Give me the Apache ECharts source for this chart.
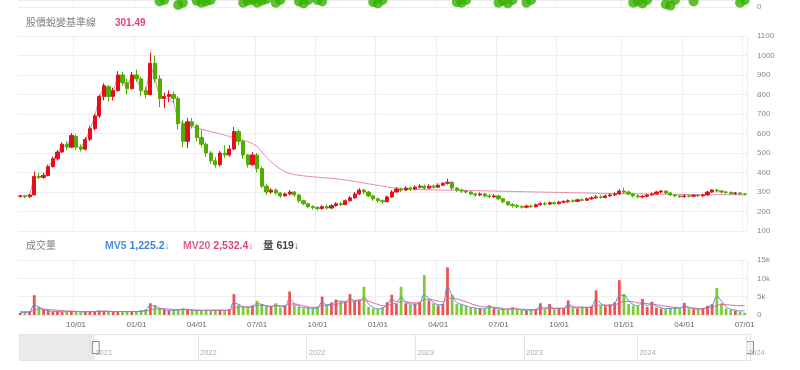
<!DOCTYPE html>
<html><head><meta charset="utf-8">
<script src="https://cdn.jsdelivr.net/npm/echarts@6/dist/echarts.min.js"></script>
<style>html,body{margin:0;padding:0;background:#fff}#c{width:800px;height:370px}</style>
</head><body><div id="c"></div>
<script>
// ---- data (weekly) ----
const LEAD = 18;               // weeks before the visible window (shown greyed in the slider)
const FIRST_WEEK = '2021-03-01';
const candles = [ // [open, close, low, high]
[278,280,270,285],[280,276,268,284],[276,285,270,290],[285,380,282,405],[380,375,365,398],[375,385,368,398],[385,430,380,440],[430,470,425,482],[470,505,460,515],[505,545,500,555],
[545,530,515,560],[530,590,525,603],[585,530,515,595],[530,520,508,545],[520,570,512,582],[570,625,560,640],[625,690,615,700],[690,790,680,800],[790,845,770,858],[840,790,765,850],
[790,820,770,835],[820,900,815,920],[900,860,845,915],[860,830,800,880],[830,900,825,915],[900,880,865,928],[880,820,790,890],[820,800,780,840],[800,960,795,1015],[960,880,860,1000],
[880,780,735,900],[780,790,730,810],[790,800,760,820],[800,780,755,815],[780,650,620,790],[650,560,530,670],[560,660,525,680],[660,640,625,680],[640,580,560,650],[580,545,530,620],
[545,500,480,555],[500,460,445,510],[460,440,425,480],[440,500,430,510],[500,490,475,540],[490,520,480,540],[520,610,515,633],[610,560,540,620],[560,490,470,570],[490,440,425,495],
[440,490,435,505],[490,420,400,500],[420,330,320,430],[330,300,285,340],[300,310,290,320],[310,295,285,318],[295,280,270,300],[280,290,275,298],[290,300,282,310],[300,285,275,305],
[285,255,245,290],[255,240,232,260],[240,225,215,245],[225,220,210,232],[220,215,205,228],[215,225,210,232],[225,218,210,235],[218,230,212,238],[230,240,225,248],[240,235,228,250],
[235,255,232,262],[255,270,250,280],[270,290,265,300],[290,310,285,320],[310,300,290,318],[300,280,275,305],[280,265,255,285],[265,255,245,270],[255,250,240,262],[250,275,248,282],
[275,300,270,310],[300,315,298,325],[315,310,300,322],[310,320,305,330],[320,315,305,328],[315,325,310,335],[325,330,318,340],[330,320,312,338],[320,330,315,340],[330,325,318,338],
[325,335,320,345],[335,345,330,350],[345,350,338,368],[350,320,310,355],[320,310,300,325],[310,305,295,318],[305,300,292,312],[300,290,282,305],[290,285,276,296],[285,290,278,298],
[290,280,272,295],[280,275,268,288],[275,280,270,290],[280,265,258,285],[265,250,242,270],[250,235,228,255],[235,230,220,242],[230,225,218,238],[225,222,215,232],[222,228,216,235],
[228,225,218,236],[225,235,220,240],[235,240,228,248],[240,238,230,250],[238,245,232,252],[245,240,235,252],[240,248,236,255],[248,250,242,258],[250,255,245,262],[255,252,246,262],
[252,260,248,266],[260,258,252,268],[258,265,254,272],[265,270,260,278],[270,275,265,285],[275,272,266,284],[272,280,268,288],[280,285,275,292],[285,290,280,298],[290,305,286,315],
[305,300,290,322],[300,290,285,308],[290,280,272,295],[280,275,268,288],[275,278,268,285],[278,285,272,292],[285,290,280,298],[290,300,286,306],[300,305,294,310],[305,295,288,308],
[295,285,280,300],[285,280,274,290],[280,276,270,286],[276,280,270,288],[280,278,272,286],[278,282,274,290],[282,280,274,290],[280,285,276,292],[285,300,282,306],[300,310,295,315],
[310,305,298,316],[305,300,292,310],[300,298,290,305],[298,292,286,302],[292,295,285,300],[295,290,284,298],[290,288,282,294]
];
const baseline = [
280,280,285,375,378,383,425,465,500,540,535,585,540,525,565,620,685,785,840,800,
815,895,865,835,895,880,825,805,955,880,790,785,775,760,665,655,645,635,628,622,
616,610,604,598,592,585,578,572,565,558,548,535,505,478,455,435,418,405,395,390,
386,383,380,378,376,374,372,370,368,365,362,358,354,350,346,342,338,334,330,326,
322,320,318,316,315,314,313,312,311,311,310,310,310,309,309,308,308,307,307,306,
306,305,305,304,304,303,303,302,302,301,301,300,300,299,299,298,298,297,297,296,
296,295,295,294,294,293,293,292,292,292,291,291,291,290,290,290,289,289,289,288,
288,288,288,287,287,287,287,286,286,286,286,286,286,286,286,286,286
];
const volume = [
600,700,900,5400,2200,1600,1200,900,1000,800,900,1100,900,700,800,900,1000,1200,1100,900,
800,1000,900,800,1000,900,1200,1500,3200,2600,1800,1400,1200,1300,1500,1800,1400,1300,1200,1100,
1300,1200,1400,1300,1200,1500,5700,2800,2200,2000,2600,3900,3000,2400,2200,3200,2000,2500,6400,2800,
2200,1800,2000,1700,2200,5000,2600,3400,4200,3800,3600,5700,3800,4200,7700,2200,1800,1600,2000,3500,
5500,3000,7700,3200,2800,3000,3600,10900,4000,3200,2600,3000,13000,5500,3000,2800,2400,2000,1800,1700,
1600,2700,1800,1500,1400,1300,2200,1500,1300,1200,1400,1500,3200,1500,3000,1600,1800,1700,4000,2000,
1800,2200,2000,2400,6700,2600,2400,2800,3500,9500,5700,3000,2600,2400,4400,2200,3600,2000,1800,1600,
1800,2000,1600,3300,1800,1600,1500,1800,2500,3000,7400,3200,1800,1400,1200,900,619
];
const mv5 = [
700,700,900,2700,2200,1500,1200,1000,950,900,900,950,950,850,850,900,950,1050,1050,1000,
900,950,950,900,950,950,1100,1400,2600,2500,1900,1500,1300,1300,1400,1600,1500,1350,1250,1200,
1250,1250,1300,1300,1250,1400,3300,2900,2300,2100,2400,3100,2900,2500,2300,2700,2300,2400,4300,3200,
2400,2000,1950,1800,2000,3400,2800,3000,3700,3800,3700,4400,4000,4000,4800,3000,2100,1700,1900,2900,
4200,3600,4800,3600,3000,3000,3300,5500,4500,3500,2800,3000,7600,5400,3400,2900,2500,2100,1900,1750,
1650,2200,1900,1650,1500,1400,1800,1600,1400,1300,1400,1500,2300,1900,2300,1800,1800,1750,2900,2300,
1900,2100,2000,2300,4200,3200,2600,2700,3200,5200,5400,3800,2900,2500,3300,2600,3000,2400,2000,1750,
1800,1900,1750,2500,2100,1750,1600,1700,2200,2800,5000,3800,2300,1600,1300,1100,1225
];
const mv20 = [
900,900,900,1400,1600,1600,1500,1400,1300,1200,1100,1050,1000,950,950,950,950,1000,1000,1000,
950,950,950,950,950,950,1000,1100,1400,1600,1700,1700,1600,1500,1450,1450,1450,1400,1350,1300,
1300,1300,1300,1300,1300,1350,1900,2100,2200,2200,2300,2500,2600,2500,2400,2500,2500,2500,3000,3000,
2800,2500,2200,2100,2100,2500,2600,2700,2900,3200,3400,3700,3800,3900,4100,3800,3300,2900,2500,2600,
3000,3200,3600,3600,3400,3300,3400,4200,4300,4100,3800,3600,4400,4600,4400,4000,3600,3100,2700,2400,
2200,2200,2100,2000,1800,1700,1700,1650,1600,1500,1450,1450,1600,1650,1800,1800,1850,1850,2100,2200,
2200,2100,2100,2200,2600,2700,2700,2700,2800,3300,3700,3700,3600,3300,3300,3100,3000,2800,2600,2400,
2200,2100,2000,2100,2000,1900,1800,1800,1900,2100,2600,2800,2800,2700,2600,2550,2532
];
// green markers in the clipped strip at the very top: [week, value]
const topMarks = [[30,0.8],[31,1.0],[34,0.3],[35,0.6],[38,0.9],[39,0.6],[40,0.8],[41,1.0],[48,0.6],[49,0.9],[50,1.0],[51,0.6],[52,0.9],
[53,1.1],[55,0.6],[56,1.0],[60,0.8],[61,0.5],[62,1.0],[64,1.0],[65,0.8],[76,0.7],[77,0.5],[78,1.0],[94,0.7],[95,0.6],[96,1.0],[103,0.6],
[104,0.9],[105,0.5],[106,1.0],[109,0.6],[110,1.0],[132,0.6],[133,0.8],[134,0.5],[135,1.0],[139,0.4],[140,0.2],[141,1.0],[145,0.8],[155,0.6],[156,1.0]];
const titleText = '股價蛻變基準線', titleValue = '301.49';
const volTitle = '成交量', mv5Text = '1,225.2', mv20Text = '2,532.4', volText = '619';

// ---- build ----
const NW = LEAD + candles.length;
const weeks = [];
for (let i = 0, t = Date.parse(FIRST_WEEK); i < NW; i++, t += 7 * 864e5) weeks.push(new Date(t).toISOString().slice(0, 10));
function periodStart(ds, step) { // Date of a month-1st (month % step == 0) inside that week, or null
  const t = Date.parse(ds);
  for (let k = 0; k < 7; k++) { const d = new Date(t + k * 864e5); if (d.getUTCDate() === 1 && d.getUTCMonth() % step === 0) return d; }
  return null;
}
const isQ = (i) => !!periodStart(weeks[i], 3);
const isH = (i) => !!periodStart(weeks[i], 6);
const pad = (a) => Array(LEAD).fill('-').concat(a);
const UP = '#e3101c', DOWN = '#52ad00';
const kData = Array(LEAD).fill(['-', '-', '-', '-']).concat(candles);
const volData = pad(volume.map((v, i) => ({ value: v, itemStyle: { color: candles[i][1] >= candles[i][0] ? 'rgba(232,40,40,0.8)' : 'rgba(96,190,10,0.8)' } })));
const topData = topMarks.map(([w, v]) => [weeks[LEAD + w], v]);
const FONT = "'Liberation Sans','Noto Sans CJK TC',sans-serif";
const AX = 8;  // axis label size
const gridLine = { show: true, lineStyle: { color: '#efefef', width: 1 } };
const xBase = (gi, extra) => Object.assign({
  type: 'category', gridIndex: gi, data: weeks, boundaryGap: true,
  axisLine: { show: false }, axisTick: { show: false }, axisLabel: { show: false },
  splitLine: { show: true, interval: (i) => isQ(i), lineStyle: { color: '#efefef' } }
}, extra || {});

const chart = echarts.init(document.getElementById('c'), null, { renderer: 'canvas' });
chart.setOption({
  animation: false,
  backgroundColor: '#fff',
  textStyle: { fontFamily: FONT },
  title: [
    { left: 21, top: 13, text: titleText, textStyle: { color: '#808080', fontSize: 10, fontWeight: 'normal', fontFamily: FONT } },
    { left: 110, top: 13, text: titleValue, textStyle: { color: '#e0457b', fontSize: 10, fontWeight: 'bold', fontFamily: FONT } },
    { left: 21, top: 236, text: volTitle, textStyle: { color: '#808080', fontSize: 10, fontWeight: 'normal', fontFamily: FONT } },
    { left: 100, top: 236, text: '{a|MV5 }{b|' + mv5Text + '}{c|↓}', textStyle: { rich: {
      a: { color: '#4d8fe6', fontSize: 10.5, fontFamily: FONT }, b: { color: '#3f7fd9', fontSize: 10.5, fontWeight: 'bold', fontFamily: FONT }, c: { color: '#4d8fe6', fontSize: 10 } } } },
    { left: 178, top: 236, text: '{a|MV20 }{b|' + mv20Text + '}{c|↓}', textStyle: { rich: {
      a: { color: '#e0608e', fontSize: 10.5, fontFamily: FONT }, b: { color: '#d9457a', fontSize: 10.5, fontWeight: 'bold', fontFamily: FONT }, c: { color: '#e0608e', fontSize: 10 } } } },
    { left: 258, top: 236, text: '{a|量 }{b|' + volText + '}{c|↓}', textStyle: { rich: {
      a: { color: '#555', fontSize: 10.5, fontFamily: FONT }, b: { color: '#444', fontSize: 10.5, fontWeight: 'bold', fontFamily: FONT }, c: { color: '#555', fontSize: 10 } } } }
  ],
  grid: [
    { left: 18, right: 53, top: 0, height: 7 },
    { left: 18, right: 53, top: 36, height: 195 },
    { left: 18, right: 53, top: 260, height: 55 },
    { left: 18, right: 50, top: 334, height: 27 }
  ],
  xAxis: [
    xBase(0),
    xBase(1),
    xBase(2, { axisLabel: { show: true, interval: (i) => isQ(i), color: '#666', fontSize: AX, margin: 6,
      formatter: (v) => { const d = periodStart(v, 3); return d ? String(d.getUTCMonth() + 1).padStart(2, '0') + '/01' : ''; } } }),
    { type: 'category', gridIndex: 3, data: weeks, boundaryGap: true, z: 10,
      axisLine: { show: false }, axisTick: { show: false },
      splitLine: { show: true, interval: (i) => isH(i), lineStyle: { color: '#e2e2e2' } },
      axisLabel: { show: true, inside: true, align: 'left', margin: 4, color: '#aaa', fontSize: 7.5,
        interval: (i) => isH(i) || i === LEAD || i === NW - 1,
        formatter: (v) => { const d = periodStart(v, 6); return d ? String(d.getUTCFullYear()) : v.slice(0, 4); } } }
  ],
  yAxis: [
    { type: 'value', gridIndex: 0, position: 'right', min: 0, max: 1, interval: 1,
      axisLine: { show: false }, axisTick: { show: false },
      axisLabel: { color: '#888', fontSize: AX, margin: 10, formatter: (v) => v === 0 ? '0' : '' },
      splitLine: { show: true, lineStyle: { color: '#ececec' } } },
    { type: 'value', gridIndex: 1, position: 'right', min: 100, max: 1100, interval: 100,
      axisLine: { show: false }, axisTick: { show: false },
      axisLabel: { color: '#888', fontSize: AX, margin: 10, formatter: (v) => String(v) }, splitLine: gridLine },
    { type: 'value', gridIndex: 2, position: 'right', min: 0, max: 15000, interval: 5000,
      axisLine: { show: false }, axisTick: { show: false },
      axisLabel: { color: '#888', fontSize: AX, margin: 10, formatter: (v) => v === 0 ? '0' : (v / 1000) + 'k' }, splitLine: gridLine },
    { type: 'value', gridIndex: 3, show: false }
  ],
  dataZoom: [{
    type: 'slider', xAxisIndex: [0, 1, 2], startValue: LEAD, endValue: NW - 1,
    left: 18, right: 50, top: 334, height: 27,
    showDetail: false, showDataShadow: false, brushSelect: false, moveHandleSize: 0,
    backgroundColor: '#ebebeb', fillerColor: '#ffffff', borderColor: '#e3e3e3',
    handleIcon: 'path://M0,0H8V14H0Z', handleSize: 12,
    handleStyle: { color: '#f8f8f8', borderColor: '#8a8a8a', borderWidth: 1 },
    dataBackground: { lineStyle: { opacity: 0 }, areaStyle: { opacity: 0 } }
  }],
  series: [
    { type: 'scatter', xAxisIndex: 0, yAxisIndex: 0, data: topData, symbolSize: 10, clip: false,
      itemStyle: { color: '#36b000' }, silent: true },
    { type: 'line', xAxisIndex: 1, yAxisIndex: 1, data: pad(baseline), symbol: 'none', z: 1,
      lineStyle: { color: '#e88aae', width: 1 } },
    { type: 'candlestick', xAxisIndex: 1, yAxisIndex: 1, data: kData, barWidth: '80%', z: 2,
      itemStyle: { color: UP, color0: DOWN, borderColor: UP, borderColor0: DOWN, borderWidth: 1 } },
    { type: 'bar', xAxisIndex: 2, yAxisIndex: 2, data: volData, barWidth: '60%' },
    { type: 'line', xAxisIndex: 2, yAxisIndex: 2, data: pad(mv5), symbol: 'none', smooth: true,
      lineStyle: { color: '#4d8fe6', width: 1 } },
    { type: 'line', xAxisIndex: 2, yAxisIndex: 2, data: pad(mv20), symbol: 'none', smooth: true,
      lineStyle: { color: '#e0608e', width: 1 } },
    { type: 'line', xAxisIndex: 3, yAxisIndex: 3, data: [], symbol: 'none' }
  ]
});
</script></body></html>
